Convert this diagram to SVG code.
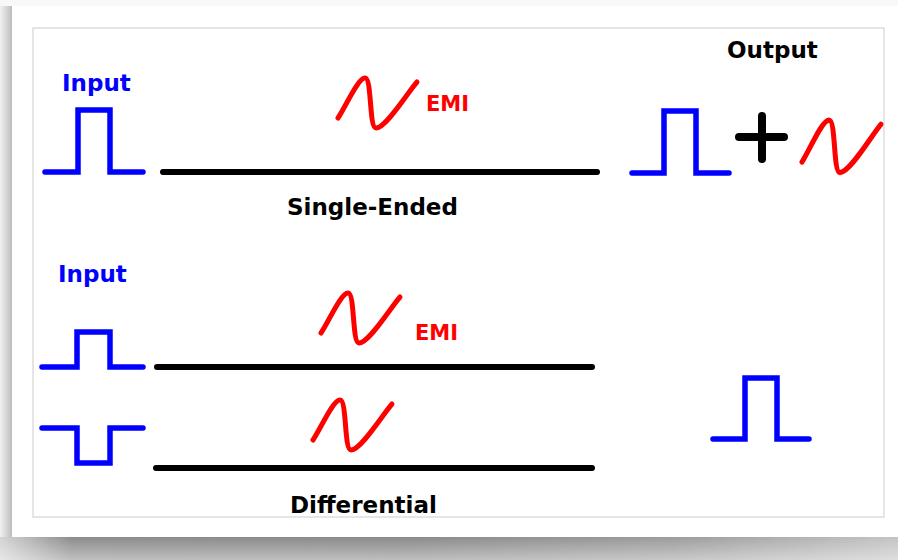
<svg xmlns="http://www.w3.org/2000/svg" width="898" height="560" viewBox="0 0 898 560">
  <defs>
    <style>
      .lbl { font-family: "DejaVu Sans", "Verdana", sans-serif; font-weight: bold; font-size: 23px; }
      .emi { font-family: "DejaVu Sans", "Verdana", sans-serif; font-weight: bold; font-size: 21px; fill: #ff0000; }
      .blue { fill: #0000ff; }
      .black { fill: #000000; }
      .pulse { fill: none; stroke: #0000ff; stroke-width: 5.5; stroke-linecap: round; stroke-linejoin: miter; }
      .wire { fill: none; stroke: #000000; stroke-width: 6; stroke-linecap: round; }
      .noise { fill: none; stroke: #ff0000; stroke-width: 5; stroke-linecap: round; stroke-linejoin: round; }
    </style>
    <!-- one cycle of interference, origin at its left end -->
    <path id="wave" d="M0,0 C8,-12 20,-40 27,-40 C34,-40 31,10 38,10 C48,10 70,-26 79,-36"/>
    <linearGradient id="floorShade" x1="0" y1="0" x2="1" y2="0">
      <stop offset="0" stop-color="#d4d4d4"/>
      <stop offset="0.08" stop-color="#8c8c8c"/>
      <stop offset="0.45" stop-color="#8a8a8a"/>
      <stop offset="0.75" stop-color="#9c9c9c"/>
      <stop offset="1" stop-color="#c4c4c4"/>
    </linearGradient>
    <linearGradient id="floorFade" x1="0" y1="0" x2="0" y2="1">
      <stop offset="0" stop-color="#ffffff" stop-opacity="0"/>
      <stop offset="1" stop-color="#ffffff" stop-opacity="0.45"/>
    </linearGradient>
    <linearGradient id="sideShade" x1="0" y1="0" x2="1" y2="0">
      <stop offset="0" stop-color="#f2f2f2"/>
      <stop offset="1" stop-color="#bdbdbd"/>
    </linearGradient>
  </defs>

  <!-- page and its shadow -->
  <rect x="0" y="0" width="898" height="560" fill="#f8f8f8"/>
  <rect x="0" y="6" width="12" height="532" fill="url(#sideShade)"/>
  <rect x="0" y="537" width="898" height="23" fill="url(#floorShade)"/>
  <rect x="0" y="537" width="898" height="23" fill="url(#floorFade)"/>
  <rect x="12" y="6" width="886" height="531" fill="#ffffff"/>
  <rect x="33" y="28" width="851" height="489" fill="#ffffff" stroke="#cccccc" stroke-width="1"/>

  <!-- transmission lines -->
  <g id="lines">
    <line class="wire" x1="163" y1="172" x2="597" y2="172"/>
    <line class="wire" x1="157" y1="367" x2="592" y2="367"/>
    <line class="wire" x1="156" y1="468" x2="592" y2="468"/>
  </g>

  <!-- single-ended case -->
  <g id="se-input">
    <text class="lbl blue" x="62" y="91">Input</text>
    <polyline class="pulse" points="45,172 78,172 78,110 110,110 110,172 143,172"/>
  </g>
  <g id="se-emi">
    <use href="#wave" class="noise" transform="translate(338,118)"/>
    <text class="emi" x="426" y="111">EMI</text>
  </g>
  <g id="se-caption">
    <text class="lbl black" x="287" y="215">Single-Ended</text>
  </g>
  <g id="se-output">
    <text class="lbl black" x="727" y="58">Output</text>
    <polyline class="pulse" points="632,173 664,173 664,111 696,111 696,173 729,173"/>
    <path d="M762,116 V159 M739,137 H784" fill="none" stroke="#000000" stroke-width="8" stroke-linecap="round"/>
    <use href="#wave" class="noise" transform="translate(802,162) scale(1,1.05)"/>
  </g>

  <!-- differential case -->
  <g id="diff-input">
    <text class="lbl blue" x="58" y="282">Input</text>
    <polyline class="pulse" points="42,367 77,367 77,332 110,332 110,367 143,367"/>
    <polyline class="pulse" points="42,428 77,428 77,463 110,463 110,428 143,428"/>
  </g>
  <g id="diff-emi">
    <use href="#wave" class="noise" transform="translate(321,333)"/>
    <text class="emi" x="415" y="340">EMI</text>
    <use href="#wave" class="noise" transform="translate(313,440)"/>
  </g>
  <g id="diff-caption">
    <text class="lbl black" x="290" y="513">Differential</text>
  </g>
  <g id="diff-output">
    <polyline class="pulse" points="713,439 745,439 745,378 777,378 777,439 809,439"/>
  </g>
</svg>
